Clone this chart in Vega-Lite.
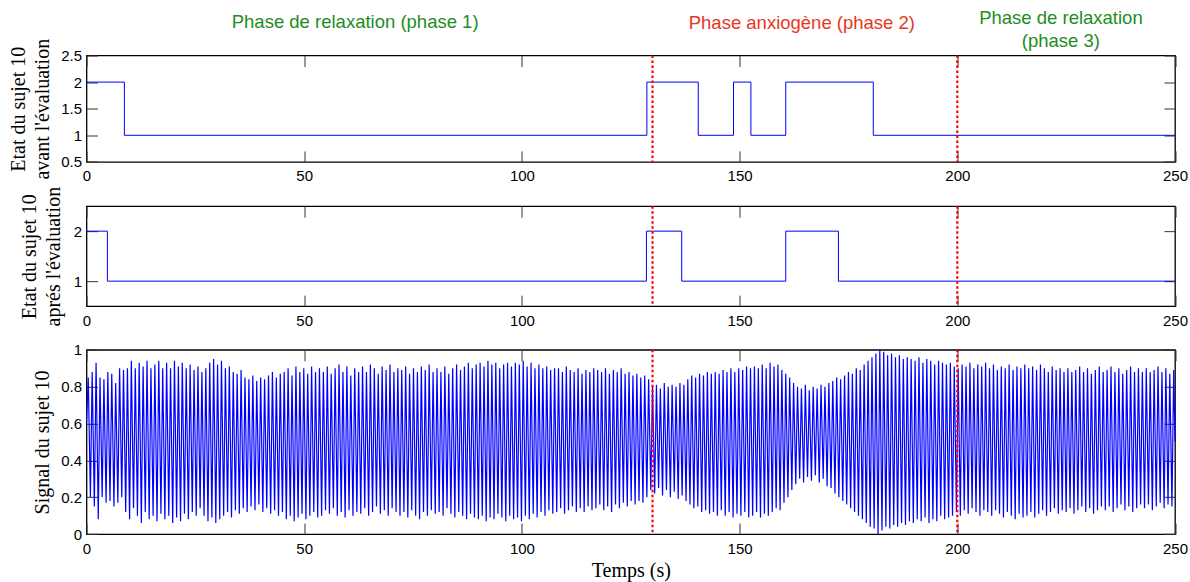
{
  "$schema": "https://vega.github.io/schema/vega-lite/v6.json",
  "background": "white",
  "padding": {"left": 7.5, "top": 7.5, "right": 0, "bottom": 0},
  "config": {
    "axis": {"labelFont": "Liberation Sans", "labelFontSize": 15, "labelColor": "black", "titleFont": "Liberation Serif", "titleFontSize": 20, "titleFontWeight": "normal", "titleColor": "black", "domain": false, "grid": false, "tickColor": "#333", "tickSize": -11, "labelFlush": false, "labelOverlap": false},
    "axisX": {"format": "d"},
    "axisY": {"format": "~g"},
    "view": {"stroke": "black", "strokeWidth": 1.3}
  },
  "datasets": {
    "avant": [{"t":0,"s":2},{"t":8.7,"s":1},{"t":128.7,"s":2},{"t":140.5,"s":1},{"t":148.6,"s":2},{"t":152.6,"s":1},{"t":160.6,"s":2},{"t":180.7,"s":1},{"t":250,"s":1}],
    "apres": [{"t":0,"s":2},{"t":4.8,"s":1},{"t":128.6,"s":2},{"t":136.7,"s":1},{"t":160.6,"s":2},{"t":172.7,"s":1},{"t":250,"s":1}],
    "marks": [{"t":130},{"t":200}],
    "phases": [
      {"t":61.7,"y":3.01,"label":"Phase de relaxation (phase 1)","c":"g"},
      {"t":164.3,"y":2.99,"label":"Phase anxiogène (phase 2)","c":"r"},
      {"t":223.8,"y":3.1,"label":"Phase de relaxation","c":"g"},
      {"t":223.8,"y":2.66,"label":"(phase 3)","c":"g"}
    ],
    "sig": [
{"t":0,"v":0.6},{"t":0.4,"v":0.85},{"t":0.9,"v":0.2},{"t":1.3,"v":0.88},{"t":1.8,"v":0.15},{"t":2.2,"v":0.93},{"t":2.7,"v":0.08},{"t":3.1,"v":0.85},{"t":3.6,"v":0.2},{"t":4,"v":0.84},{"t":4.5,"v":0.17},{"t":4.9,"v":0.88},{"t":5.4,"v":0.18},{"t":5.8,"v":0.87},{"t":6.3,"v":0.15},{"t":6.7,"v":0.82},{"t":7.2,"v":0.17},{"t":7.6,"v":0.9},{"t":8.1,"v":0.2},{"t":8.5,"v":0.89},
{"t":9,"v":0.12},{"t":9.4,"v":0.9},{"t":9.9,"v":0.08},{"t":10.3,"v":0.94},{"t":10.8,"v":0.14},{"t":11.2,"v":0.9},{"t":11.7,"v":0.1},{"t":12.1,"v":0.93},{"t":12.6,"v":0.06},{"t":13,"v":0.91},{"t":13.5,"v":0.12},{"t":13.9,"v":0.94},{"t":14.4,"v":0.08},{"t":14.8,"v":0.9},{"t":15.3,"v":0.1},{"t":15.7,"v":0.92},{"t":16.2,"v":0.07},{"t":16.6,"v":0.94},{"t":17.1,"v":0.11},{"t":17.5,"v":0.9},
{"t":18,"v":0.08},{"t":18.4,"v":0.93},{"t":18.9,"v":0.1},{"t":19.3,"v":0.9},{"t":19.8,"v":0.06},{"t":20.2,"v":0.94},{"t":20.7,"v":0.09},{"t":21.1,"v":0.91},{"t":21.6,"v":0.07},{"t":22,"v":0.93},{"t":22.5,"v":0.11},{"t":22.9,"v":0.9},{"t":23.4,"v":0.08},{"t":23.8,"v":0.92},{"t":24.3,"v":0.12},{"t":24.7,"v":0.89},{"t":25.2,"v":0.1},{"t":25.6,"v":0.91},{"t":26.1,"v":0.14},{"t":26.5,"v":0.88},
{"t":27,"v":0.1},{"t":27.4,"v":0.9},{"t":27.9,"v":0.07},{"t":28.3,"v":0.93},{"t":28.8,"v":0.09},{"t":29.2,"v":0.95},{"t":29.7,"v":0.06},{"t":30.1,"v":0.92},{"t":30.6,"v":0.08},{"t":31,"v":0.94},{"t":31.5,"v":0.1},{"t":31.9,"v":0.9},{"t":32.4,"v":0.12},{"t":32.8,"v":0.91},{"t":33.3,"v":0.09},{"t":33.7,"v":0.88},{"t":34.2,"v":0.13},{"t":34.6,"v":0.87},{"t":35.1,"v":0.11},{"t":35.5,"v":0.89},
{"t":36,"v":0.14},{"t":36.4,"v":0.85},{"t":36.9,"v":0.12},{"t":37.3,"v":0.84},{"t":37.8,"v":0.15},{"t":38.2,"v":0.86},{"t":38.7,"v":0.13},{"t":39.1,"v":0.83},{"t":39.6,"v":0.16},{"t":40,"v":0.85},{"t":40.5,"v":0.12},{"t":40.9,"v":0.84},{"t":41.4,"v":0.14},{"t":41.8,"v":0.86},{"t":42.3,"v":0.11},{"t":42.7,"v":0.88},{"t":43.2,"v":0.13},{"t":43.6,"v":0.85},{"t":44.1,"v":0.1},{"t":44.5,"v":0.87},
{"t":45,"v":0.12},{"t":45.4,"v":0.88},{"t":45.9,"v":0.08},{"t":46.3,"v":0.9},{"t":46.8,"v":0.1},{"t":47.2,"v":0.86},{"t":47.7,"v":0.07},{"t":48.1,"v":0.91},{"t":48.6,"v":0.09},{"t":49,"v":0.88},{"t":49.5,"v":0.11},{"t":49.9,"v":0.9},{"t":50.4,"v":0.08},{"t":50.8,"v":0.87},{"t":51.3,"v":0.1},{"t":51.7,"v":0.91},{"t":52.2,"v":0.12},{"t":52.6,"v":0.88},{"t":53.1,"v":0.09},{"t":53.5,"v":0.9},
{"t":54,"v":0.1},{"t":54.4,"v":0.88},{"t":54.9,"v":0.13},{"t":55.3,"v":0.91},{"t":55.8,"v":0.11},{"t":56.2,"v":0.87},{"t":56.7,"v":0.14},{"t":57.1,"v":0.9},{"t":57.6,"v":0.1},{"t":58,"v":0.92},{"t":58.5,"v":0.12},{"t":58.9,"v":0.88},{"t":59.4,"v":0.09},{"t":59.8,"v":0.91},{"t":60.3,"v":0.13},{"t":60.7,"v":0.86},{"t":61.2,"v":0.1},{"t":61.6,"v":0.9},{"t":62.1,"v":0.12},{"t":62.5,"v":0.88},
{"t":63,"v":0.11},{"t":63.4,"v":0.91},{"t":63.9,"v":0.14},{"t":64.3,"v":0.88},{"t":64.8,"v":0.1},{"t":65.2,"v":0.92},{"t":65.7,"v":0.12},{"t":66.1,"v":0.9},{"t":66.6,"v":0.15},{"t":67,"v":0.87},{"t":67.5,"v":0.11},{"t":67.9,"v":0.91},{"t":68.4,"v":0.13},{"t":68.8,"v":0.89},{"t":69.3,"v":0.1},{"t":69.7,"v":0.92},{"t":70.2,"v":0.14},{"t":70.6,"v":0.88},{"t":71.1,"v":0.12},{"t":71.5,"v":0.9},
{"t":72,"v":0.1},{"t":72.4,"v":0.89},{"t":72.9,"v":0.12},{"t":73.3,"v":0.91},{"t":73.8,"v":0.09},{"t":74.2,"v":0.87},{"t":74.7,"v":0.13},{"t":75.1,"v":0.9},{"t":75.6,"v":0.1},{"t":76,"v":0.88},{"t":76.5,"v":0.08},{"t":76.9,"v":0.91},{"t":77.4,"v":0.12},{"t":77.8,"v":0.89},{"t":78.3,"v":0.1},{"t":78.7,"v":0.92},{"t":79.2,"v":0.13},{"t":79.6,"v":0.88},{"t":80.1,"v":0.11},{"t":80.5,"v":0.9},
{"t":81,"v":0.12},{"t":81.4,"v":0.88},{"t":81.9,"v":0.1},{"t":82.3,"v":0.91},{"t":82.8,"v":0.14},{"t":83.2,"v":0.87},{"t":83.7,"v":0.11},{"t":84.1,"v":0.9},{"t":84.6,"v":0.09},{"t":85,"v":0.92},{"t":85.5,"v":0.12},{"t":85.9,"v":0.89},{"t":86.4,"v":0.1},{"t":86.8,"v":0.91},{"t":87.3,"v":0.08},{"t":87.7,"v":0.93},{"t":88.2,"v":0.11},{"t":88.6,"v":0.9},{"t":89.1,"v":0.09},{"t":89.5,"v":0.92},
{"t":90,"v":0.08},{"t":90.4,"v":0.93},{"t":90.9,"v":0.1},{"t":91.3,"v":0.91},{"t":91.8,"v":0.07},{"t":92.2,"v":0.94},{"t":92.7,"v":0.09},{"t":93.1,"v":0.92},{"t":93.6,"v":0.08},{"t":94,"v":0.93},{"t":94.5,"v":0.11},{"t":94.9,"v":0.9},{"t":95.4,"v":0.09},{"t":95.8,"v":0.92},{"t":96.3,"v":0.07},{"t":96.7,"v":0.93},{"t":97.2,"v":0.1},{"t":97.6,"v":0.91},{"t":98.1,"v":0.08},{"t":98.5,"v":0.93},
{"t":99,"v":0.09},{"t":99.4,"v":0.92},{"t":99.9,"v":0.07},{"t":100.3,"v":0.94},{"t":100.8,"v":0.1},{"t":101.2,"v":0.91},{"t":101.7,"v":0.08},{"t":102.1,"v":0.93},{"t":102.6,"v":0.11},{"t":103,"v":0.9},{"t":103.5,"v":0.09},{"t":103.9,"v":0.92},{"t":104.4,"v":0.12},{"t":104.8,"v":0.9},{"t":105.3,"v":0.1},{"t":105.7,"v":0.91},{"t":106.2,"v":0.13},{"t":106.6,"v":0.89},{"t":107.1,"v":0.11},{"t":107.5,"v":0.9},
{"t":108,"v":0.12},{"t":108.4,"v":0.9},{"t":108.9,"v":0.14},{"t":109.3,"v":0.88},{"t":109.8,"v":0.11},{"t":110.2,"v":0.91},{"t":110.7,"v":0.13},{"t":111.1,"v":0.89},{"t":111.6,"v":0.15},{"t":112,"v":0.88},{"t":112.5,"v":0.12},{"t":112.9,"v":0.9},{"t":113.4,"v":0.14},{"t":113.8,"v":0.87},{"t":114.3,"v":0.12},{"t":114.7,"v":0.89},{"t":115.2,"v":0.15},{"t":115.6,"v":0.88},{"t":116.1,"v":0.13},{"t":116.5,"v":0.9},
{"t":117,"v":0.14},{"t":117.4,"v":0.89},{"t":117.9,"v":0.16},{"t":118.3,"v":0.88},{"t":118.8,"v":0.13},{"t":119.2,"v":0.9},{"t":119.7,"v":0.15},{"t":120.1,"v":0.87},{"t":120.6,"v":0.12},{"t":121,"v":0.89},{"t":121.5,"v":0.16},{"t":121.9,"v":0.88},{"t":122.4,"v":0.14},{"t":122.8,"v":0.9},{"t":123.3,"v":0.17},{"t":123.7,"v":0.87},{"t":124.2,"v":0.15},{"t":124.6,"v":0.88},{"t":125.1,"v":0.18},{"t":125.5,"v":0.86},
{"t":126,"v":0.16},{"t":126.4,"v":0.87},{"t":126.9,"v":0.18},{"t":127.3,"v":0.85},{"t":127.8,"v":0.17},{"t":128.2,"v":0.86},{"t":128.7,"v":0.2},{"t":129.1,"v":0.84},{"t":129.6,"v":0.24},{"t":130,"v":0.8},{"t":130.5,"v":0.22},{"t":130.9,"v":0.81},{"t":131.4,"v":0.25},{"t":131.8,"v":0.79},{"t":132.3,"v":0.21},{"t":132.7,"v":0.82},{"t":133.2,"v":0.24},{"t":133.6,"v":0.8},{"t":134.1,"v":0.2},{"t":134.5,"v":0.81},
{"t":135,"v":0.23},{"t":135.4,"v":0.8},{"t":135.9,"v":0.19},{"t":136.3,"v":0.82},{"t":136.8,"v":0.21},{"t":137.2,"v":0.81},{"t":137.7,"v":0.18},{"t":138.1,"v":0.84},{"t":138.6,"v":0.16},{"t":139,"v":0.86},{"t":139.5,"v":0.14},{"t":139.9,"v":0.85},{"t":140.4,"v":0.15},{"t":140.8,"v":0.87},{"t":141.3,"v":0.12},{"t":141.7,"v":0.86},{"t":142.2,"v":0.13},{"t":142.6,"v":0.88},{"t":143.1,"v":0.11},{"t":143.5,"v":0.87},
{"t":144,"v":0.12},{"t":144.4,"v":0.88},{"t":144.9,"v":0.1},{"t":145.3,"v":0.87},{"t":145.8,"v":0.13},{"t":146.2,"v":0.89},{"t":146.7,"v":0.1},{"t":147.1,"v":0.88},{"t":147.6,"v":0.12},{"t":148,"v":0.9},{"t":148.5,"v":0.09},{"t":148.9,"v":0.88},{"t":149.4,"v":0.11},{"t":149.8,"v":0.9},{"t":150.3,"v":0.1},{"t":150.7,"v":0.89},{"t":151.2,"v":0.12},{"t":151.6,"v":0.91},{"t":152.1,"v":0.09},{"t":152.5,"v":0.9},
{"t":153,"v":0.1},{"t":153.4,"v":0.91},{"t":153.9,"v":0.12},{"t":154.3,"v":0.9},{"t":154.8,"v":0.09},{"t":155.2,"v":0.92},{"t":155.7,"v":0.11},{"t":156.1,"v":0.9},{"t":156.6,"v":0.1},{"t":157,"v":0.93},{"t":157.5,"v":0.12},{"t":157.9,"v":0.91},{"t":158.4,"v":0.14},{"t":158.8,"v":0.92},{"t":159.3,"v":0.13},{"t":159.7,"v":0.89},{"t":160.2,"v":0.17},{"t":160.6,"v":0.87},{"t":161.1,"v":0.2},{"t":161.5,"v":0.85},
{"t":162,"v":0.24},{"t":162.4,"v":0.82},{"t":162.9,"v":0.27},{"t":163.3,"v":0.8},{"t":163.8,"v":0.3},{"t":164.2,"v":0.79},{"t":164.7,"v":0.28},{"t":165.1,"v":0.81},{"t":165.6,"v":0.31},{"t":166,"v":0.78},{"t":166.5,"v":0.29},{"t":166.9,"v":0.8},{"t":167.4,"v":0.32},{"t":167.8,"v":0.79},{"t":168.3,"v":0.28},{"t":168.7,"v":0.81},{"t":169.2,"v":0.3},{"t":169.6,"v":0.8},{"t":170.1,"v":0.26},{"t":170.5,"v":0.82},
{"t":171,"v":0.25},{"t":171.4,"v":0.83},{"t":171.9,"v":0.22},{"t":172.3,"v":0.85},{"t":172.8,"v":0.2},{"t":173.2,"v":0.84},{"t":173.7,"v":0.18},{"t":174.1,"v":0.86},{"t":174.6,"v":0.16},{"t":175,"v":0.88},{"t":175.5,"v":0.14},{"t":175.9,"v":0.87},{"t":176.4,"v":0.12},{"t":176.8,"v":0.9},{"t":177.3,"v":0.1},{"t":177.7,"v":0.89},{"t":178.2,"v":0.08},{"t":178.6,"v":0.92},{"t":179.1,"v":0.06},{"t":179.5,"v":0.94},
{"t":180,"v":0.04},{"t":180.4,"v":0.96},{"t":180.9,"v":0.03},{"t":181.3,"v":0.98},{"t":181.8,"v":0.0},{"t":182.2,"v":1.0},{"t":182.7,"v":0.02},{"t":183.1,"v":0.99},{"t":183.6,"v":0.04},{"t":184,"v":0.97},{"t":184.5,"v":0.03},{"t":184.9,"v":0.98},{"t":185.4,"v":0.05},{"t":185.8,"v":0.96},{"t":186.3,"v":0.04},{"t":186.7,"v":0.97},{"t":187.2,"v":0.06},{"t":187.6,"v":0.95},{"t":188.1,"v":0.05},{"t":188.5,"v":0.96},
{"t":189,"v":0.07},{"t":189.4,"v":0.95},{"t":189.9,"v":0.06},{"t":190.3,"v":0.94},{"t":190.8,"v":0.08},{"t":191.2,"v":0.96},{"t":191.7,"v":0.07},{"t":192.1,"v":0.93},{"t":192.6,"v":0.09},{"t":193,"v":0.95},{"t":193.5,"v":0.06},{"t":193.9,"v":0.94},{"t":194.4,"v":0.08},{"t":194.8,"v":0.92},{"t":195.3,"v":0.07},{"t":195.7,"v":0.94},{"t":196.2,"v":0.1},{"t":196.6,"v":0.93},{"t":197.1,"v":0.08},{"t":197.5,"v":0.92},
{"t":198,"v":0.09},{"t":198.4,"v":0.93},{"t":198.9,"v":0.1},{"t":199.3,"v":0.91},{"t":199.8,"v":0.12},{"t":200.2,"v":0.9},{"t":200.7,"v":0.1},{"t":201.1,"v":0.92},{"t":201.6,"v":0.13},{"t":202,"v":0.91},{"t":202.5,"v":0.11},{"t":202.9,"v":0.93},{"t":203.4,"v":0.14},{"t":203.8,"v":0.9},{"t":204.3,"v":0.12},{"t":204.7,"v":0.92},{"t":205.2,"v":0.1},{"t":205.6,"v":0.91},{"t":206.1,"v":0.13},{"t":206.5,"v":0.93},
{"t":207,"v":0.12},{"t":207.4,"v":0.9},{"t":207.9,"v":0.1},{"t":208.3,"v":0.92},{"t":208.8,"v":0.13},{"t":209.2,"v":0.89},{"t":209.7,"v":0.11},{"t":210.1,"v":0.91},{"t":210.6,"v":0.09},{"t":211,"v":0.9},{"t":211.5,"v":0.12},{"t":211.9,"v":0.92},{"t":212.4,"v":0.1},{"t":212.8,"v":0.89},{"t":213.3,"v":0.08},{"t":213.7,"v":0.91},{"t":214.2,"v":0.11},{"t":214.6,"v":0.9},{"t":215.1,"v":0.09},{"t":215.5,"v":0.92},
{"t":216,"v":0.1},{"t":216.4,"v":0.9},{"t":216.9,"v":0.12},{"t":217.3,"v":0.91},{"t":217.8,"v":0.09},{"t":218.2,"v":0.89},{"t":218.7,"v":0.11},{"t":219.1,"v":0.92},{"t":219.6,"v":0.13},{"t":220,"v":0.9},{"t":220.5,"v":0.1},{"t":220.9,"v":0.88},{"t":221.4,"v":0.12},{"t":221.8,"v":0.91},{"t":222.3,"v":0.14},{"t":222.7,"v":0.89},{"t":223.2,"v":0.11},{"t":223.6,"v":0.9},{"t":224.1,"v":0.13},{"t":224.5,"v":0.88},
{"t":225,"v":0.12},{"t":225.4,"v":0.9},{"t":225.9,"v":0.14},{"t":226.3,"v":0.88},{"t":226.8,"v":0.11},{"t":227.2,"v":0.89},{"t":227.7,"v":0.13},{"t":228.1,"v":0.91},{"t":228.6,"v":0.15},{"t":229,"v":0.88},{"t":229.5,"v":0.12},{"t":229.9,"v":0.9},{"t":230.4,"v":0.14},{"t":230.8,"v":0.87},{"t":231.3,"v":0.11},{"t":231.7,"v":0.89},{"t":232.2,"v":0.13},{"t":232.6,"v":0.91},{"t":233.1,"v":0.15},{"t":233.5,"v":0.88},
{"t":234,"v":0.13},{"t":234.4,"v":0.89},{"t":234.9,"v":0.15},{"t":235.3,"v":0.91},{"t":235.8,"v":0.12},{"t":236.2,"v":0.88},{"t":236.7,"v":0.14},{"t":237.1,"v":0.9},{"t":237.6,"v":0.16},{"t":238,"v":0.87},{"t":238.5,"v":0.13},{"t":238.9,"v":0.89},{"t":239.4,"v":0.15},{"t":239.8,"v":0.91},{"t":240.3,"v":0.12},{"t":240.7,"v":0.88},{"t":241.2,"v":0.14},{"t":241.6,"v":0.9},{"t":242.1,"v":0.16},{"t":242.5,"v":0.88},
{"t":243,"v":0.14},{"t":243.4,"v":0.9},{"t":243.9,"v":0.16},{"t":244.3,"v":0.88},{"t":244.8,"v":0.13},{"t":245.2,"v":0.89},{"t":245.7,"v":0.15},{"t":246.1,"v":0.91},{"t":246.6,"v":0.17},{"t":247,"v":0.88},{"t":247.5,"v":0.14},{"t":247.9,"v":0.9},{"t":248.4,"v":0.16},{"t":248.8,"v":0.87},{"t":249.3,"v":0.15},{"t":249.7,"v":0.89},{"t":250,"v":0.5}
    ]
  },
  "vconcat": [
    {
      "width": 1088.5,
      "height": 106.4,
      "layer": [
        {
          "data": {"name": "avant"},
          "mark": {"type": "line", "interpolate": "step-after", "color": "#0000ff", "strokeWidth": 1},
          "encoding": {
            "x": {"field": "t", "type": "quantitative", "scale": {"domain": [0, 250], "nice": false, "zero": false}, "axis": {"values": [0, 50, 100, 150, 200, 250], "title": null, "labelPadding": 18}},
            "y": {"field": "s", "type": "quantitative", "scale": {"domain": [0.5, 2.5], "nice": false, "zero": false}, "axis": {"values": [0.5, 1, 1.5, 2, 2.5], "title": ["Etat du sujet 10", "avant l'évaluation"], "titleLineHeight": 24, "labelPadding": 16, "titlePadding": 8}}
          }
        },
        {
          "data": {"name": "avant"},
          "mark": {"type": "line", "interpolate": "step-after", "opacity": 0},
          "encoding": {
            "x": {"field": "t", "type": "quantitative", "axis": {"orient": "top", "values": [0, 50, 100, 150, 200, 250], "labels": false, "title": null}},
            "y": {"field": "s", "type": "quantitative", "axis": {"orient": "right", "values": [0.5, 1, 1.5, 2, 2.5], "labels": false, "title": null}}
          }
        },
        {
          "data": {"name": "marks"},
          "mark": {"type": "rule", "color": "#ff0000", "strokeWidth": 2.2, "strokeDash": [2.5, 2.5], "y2Offset": 43.65},
          "encoding": {"x": {"field": "t", "type": "quantitative", "axis": null}}
        },
        {
          "data": {"name": "phases"},
          "mark": {"type": "text", "font": "Liberation Sans", "fontSize": 18.5, "baseline": "alphabetic", "align": "center"},
          "encoding": {
            "x": {"field": "t", "type": "quantitative", "axis": null},
            "y": {"field": "y", "type": "quantitative", "axis": null, "scale": {"domain": [0.5, 2.5], "nice": false, "zero": false}},
            "text": {"field": "label"},
            "color": {"field": "c", "type": "nominal", "scale": {"domain": ["g", "r"], "range": ["#1f8c1f", "#e8361e"]}, "legend": null}
          }
        }
      ],
      "resolve": {"axis": {"x": "independent", "y": "independent"}}
    },
    {
      "width": 1088.5,
      "height": 100,
      "layer": [
        {
          "data": {"name": "apres"},
          "mark": {"type": "line", "interpolate": "step-after", "color": "#0000ff", "strokeWidth": 1},
          "encoding": {
            "x": {"field": "t", "type": "quantitative", "scale": {"domain": [0, 250], "nice": false, "zero": false}, "axis": {"values": [0, 50, 100, 150, 200, 250], "title": null, "labelPadding": 18}},
            "y": {"field": "s", "type": "quantitative", "scale": {"domain": [0.5, 2.5], "nice": false, "zero": false}, "axis": {"values": [1, 2], "title": ["Etat du sujet 10", "aprés  l'évaluation"], "titleLineHeight": 24, "labelPadding": 16, "titlePadding": 10}}
          }
        },
        {
          "data": {"name": "apres"},
          "mark": {"type": "line", "interpolate": "step-after", "opacity": 0},
          "encoding": {
            "x": {"field": "t", "type": "quantitative", "axis": {"orient": "top", "values": [0, 50, 100, 150, 200, 250], "labels": false, "title": null}},
            "y": {"field": "s", "type": "quantitative", "axis": {"orient": "right", "values": [1, 2], "labels": false, "title": null}}
          }
        },
        {
          "data": {"name": "marks"},
          "mark": {"type": "rule", "color": "#ff0000", "strokeWidth": 2.2, "strokeDash": [2.5, 2.5], "y2Offset": 43.65},
          "encoding": {"x": {"field": "t", "type": "quantitative", "axis": null}}
        }
      ],
      "resolve": {"axis": {"x": "independent", "y": "independent"}}
    },
    {
      "width": 1088.5,
      "height": 184.3,
      "layer": [
        {
          "data": {"name": "sig"},
          "mark": {"type": "line", "color": "#0000ff", "strokeWidth": 1.2},
          "encoding": {
            "x": {"field": "t", "type": "quantitative", "scale": {"domain": [0, 250], "nice": false, "zero": false}, "axis": {"values": [0, 50, 100, 150, 200, 250], "title": "Temps (s)", "labelPadding": 18, "titlePadding": 4}},
            "y": {"field": "v", "type": "quantitative", "scale": {"domain": [0, 1], "nice": false}, "axis": {"values": [0, 0.2, 0.4, 0.6, 0.8, 1], "title": "Signal du sujet 10", "labelPadding": 16, "titlePadding": 8}}
          }
        },
        {
          "data": {"name": "marks"},
          "mark": {"type": "line", "opacity": 0},
          "encoding": {
            "x": {"field": "t", "type": "quantitative", "axis": {"orient": "top", "values": [0, 50, 100, 150, 200, 250], "labels": false, "title": null}},
            "y": {"datum": 0.5, "type": "quantitative", "axis": {"orient": "right", "values": [0, 0.2, 0.4, 0.6, 0.8, 1], "labels": false, "title": null}}
          }
        },
        {
          "data": {"name": "marks"},
          "mark": {"type": "rule", "color": "#ff0000", "strokeWidth": 2.2, "strokeDash": [2.5, 2.5]},
          "encoding": {"x": {"field": "t", "type": "quantitative", "axis": null}}
        }
      ],
      "resolve": {"axis": {"x": "independent", "y": "independent"}}
    }
  ],
  "spacing": 43.65,
  "bounds": "flush"
}
